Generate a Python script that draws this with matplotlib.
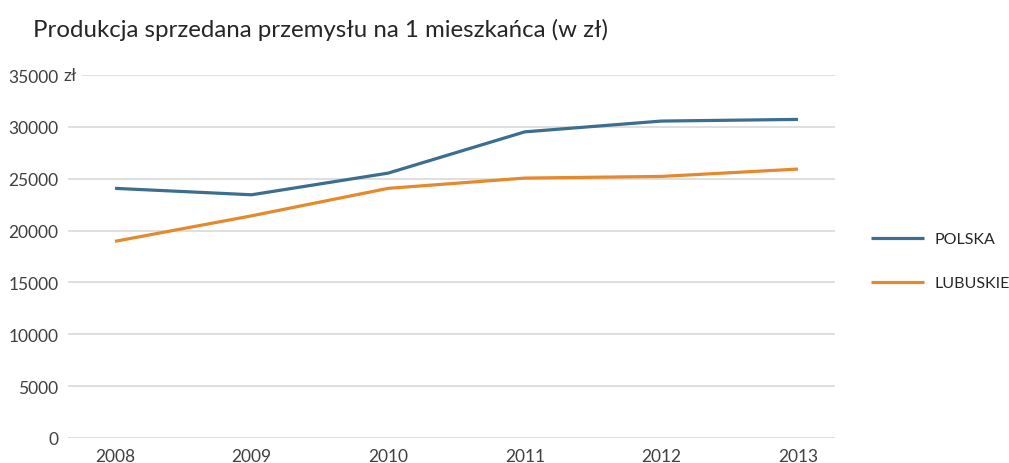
import matplotlib.pyplot as plt
from matplotlib.ticker import FuncFormatter

lata = ['2008', '2009', '2010', '2011', '2012', '2013']
polska = [24080, 23460, 25550, 29530, 30570, 30730]
lubuskie = [18970, 21430, 24080, 25070, 25230, 25940]

kolor_polska = '#3b6e8f'
kolor_lubuskie = '#e5892d'
tekst = '#404040'

plt.rcParams['font.family'] = ['Lato', 'DejaVu Sans']

fig = plt.figure(figsize=(10.09, 4.64), dpi=100)
ax = fig.add_axes([0.0674, 0.0539, 0.76, 0.782])

x = list(range(len(lata)))
ax.plot(x, polska, color=kolor_polska, lw=2.3, label='POLSKA', solid_capstyle='butt')
ax.plot(x, lubuskie, color=kolor_lubuskie, lw=2.3, label='LUBUSKIE', solid_capstyle='butt')

ax.set_ylim(0, 35000)
ax.set_xlim(-0.344, 5.27)
ax.set_yticks(range(0, 35001, 5000))
ax.yaxis.set_major_formatter(FuncFormatter(lambda v, p: f'{int(v)}'))
ax.set_xticks(x)
ax.set_xticklabels(lata)
ax.grid(axis='y', color='#d9d9d9', lw=1.2)
ax.set_axisbelow(True)
for s in ax.spines.values():
    s.set_visible(False)
ax.tick_params(axis='both', length=0, labelsize=12.5, colors=tekst)
ax.tick_params(axis='y', pad=7)
ax.tick_params(axis='x', pad=7)

# jednostka przy najwyzszej wartosci
ax.annotate('zł', xy=(0, 35000), xycoords=('axes fraction', 'data'),
            xytext=(-3, 0), textcoords='offset points', ha='left', va='center',
            fontsize=12.5, color=tekst,
            bbox=dict(boxstyle='square,pad=0.3', fc='white', ec='none'))

fig.text(0.033, 0.935, 'Produkcja sprzedana przemysłu na 1 mieszkańca (w zł)',
         fontsize=17.3, color='#262626', ha='left', va='center')

fig.legend(loc='center left', bbox_to_anchor=(0.849, 0.435), frameon=False,
           fontsize=11.5, handlelength=3.3, handletextpad=0.7,
           labelspacing=1.85, labelcolor='#262626')

fig.savefig('out.png', dpi=100)
